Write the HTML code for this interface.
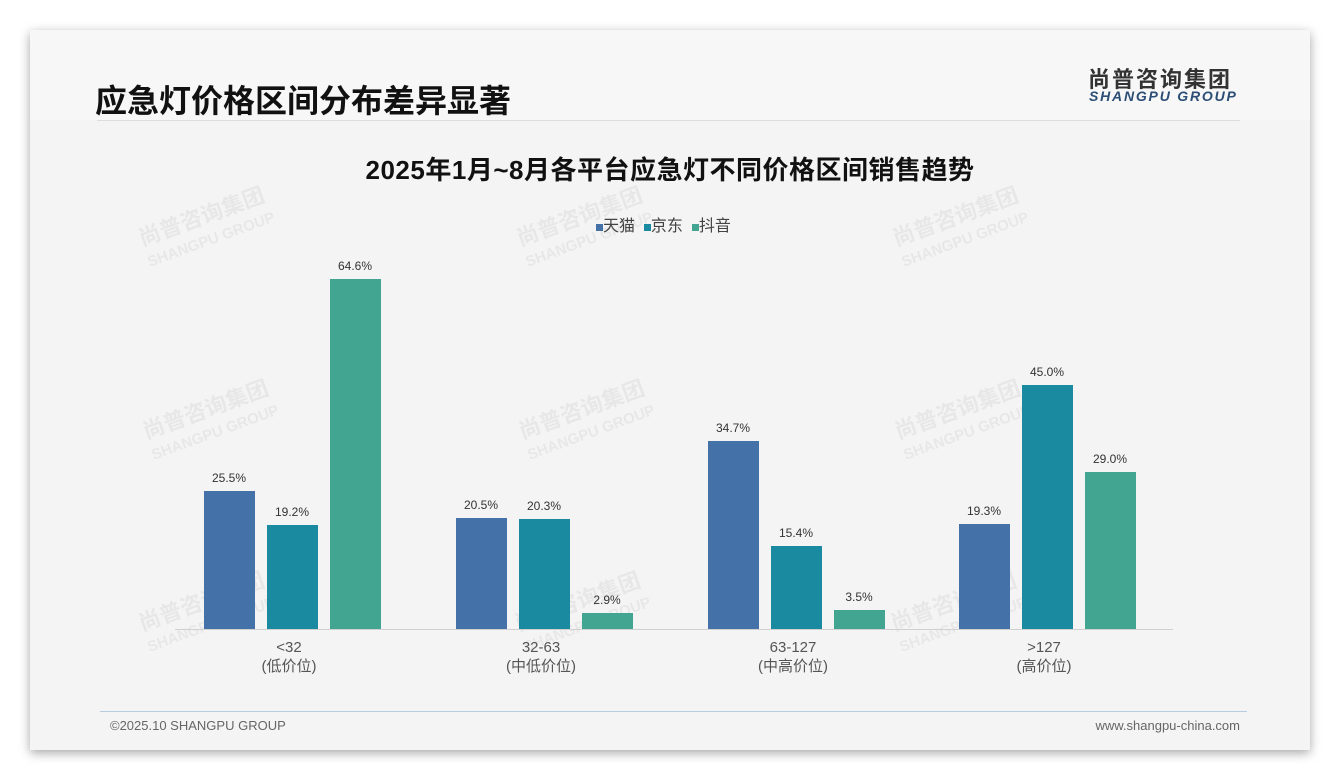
<!DOCTYPE html>
<html><head><meta charset="utf-8"><style>
body{margin:0;width:1340px;height:780px;background:#fff;font-family:"Liberation Sans","Noto Sans CJK SC",sans-serif;position:relative;overflow:hidden}
.card{position:absolute;left:30px;top:30px;width:1280px;height:720px;background:#f4f4f4;box-shadow:0 3px 10px rgba(0,0,0,.35)}
.t{position:absolute;white-space:nowrap}
.bar{position:absolute;width:51px}
.v{position:absolute;width:80px;text-align:center;font-size:12px;color:#333}
.c{position:absolute;width:160px;text-align:center;font-size:15px;color:#555;line-height:19px}
.wm{position:absolute;color:rgba(0,0,0,.05);font-weight:bold;transform:rotate(-20deg);font-size:22px;line-height:22px}
</style></head><body>
<div class="card"></div>
<div style="position:absolute;left:30px;top:30px;width:1280px;height:90px;background:#f7f7f7"></div>
<div class="t" style="left:95px;top:76px;font-size:32px;font-weight:bold;color:#111">应急灯价格区间分布差异显著</div>
<div class="t" style="left:1088px;top:62px;font-size:22px;font-weight:bold;color:#333;letter-spacing:2px">尚普咨询集团</div>
<div class="t" style="left:1089px;top:88px;font-size:14px;font-weight:bold;font-style:italic;color:#2c4d75;letter-spacing:1.8px">SHANGPU GROUP</div>
<div style="position:absolute;left:97px;top:120px;width:1143px;height:1px;background:#ddd"></div>
<div class="t" style="left:0;width:1340px;text-align:center;top:150px;font-size:26px;font-weight:bold;color:#111;letter-spacing:0.5px">2025年1月~8月各平台应急灯不同价格区间销售趋势</div>
<div class="t" style="left:596px;top:212px;font-size:16px;color:#444"><span style="display:inline-block;width:7px;height:7px;background:#4472a8"></span>天猫&nbsp;&nbsp;<span style="display:inline-block;width:7px;height:7px;background:#1a8aa0"></span>京东&nbsp;&nbsp;<span style="display:inline-block;width:7px;height:7px;background:#41a592"></span>抖音</div>
<div class="wm" style="left:140px;top:205px">尚普咨询集团<br><span style="font-size:15px">SHANGPU GROUP</span></div>
<div class="wm" style="left:518px;top:205px">尚普咨询集团<br><span style="font-size:15px">SHANGPU GROUP</span></div>
<div class="wm" style="left:894px;top:205px">尚普咨询集团<br><span style="font-size:15px">SHANGPU GROUP</span></div>
<div class="wm" style="left:144px;top:398px">尚普咨询集团<br><span style="font-size:15px">SHANGPU GROUP</span></div>
<div class="wm" style="left:520px;top:398px">尚普咨询集团<br><span style="font-size:15px">SHANGPU GROUP</span></div>
<div class="wm" style="left:896px;top:398px">尚普咨询集团<br><span style="font-size:15px">SHANGPU GROUP</span></div>
<div class="wm" style="left:140px;top:590px">尚普咨询集团<br><span style="font-size:15px">SHANGPU GROUP</span></div>
<div class="wm" style="left:516px;top:590px">尚普咨询集团<br><span style="font-size:15px">SHANGPU GROUP</span></div>
<div class="wm" style="left:892px;top:590px">尚普咨询集团<br><span style="font-size:15px">SHANGPU GROUP</span></div>
<div id="bars"></div>
<div style="position:absolute;left:175px;top:629px;width:998px;height:1px;background:#d0d0d0"></div>
<div class="c" style="left:209px;top:638px">&lt;32<br>(低价位)</div>
<div class="c" style="left:461px;top:638px">32-63<br>(中低价位)</div>
<div class="c" style="left:713px;top:638px">63-127<br>(中高价位)</div>
<div class="c" style="left:964px;top:638px">&gt;127<br>(高价位)</div>
<div style="position:absolute;left:100px;top:711px;width:1147px;height:1px;background:#b8cce0"></div>
<div class="t" style="left:110px;top:718px;font-size:13px;color:#666">©2025.10 SHANGPU GROUP</div>
<div class="t" style="right:100px;top:718px;font-size:13px;color:#666">www.shangpu-china.com</div>
<script>
var d=[[25.5,19.2,64.6],[20.5,20.3,2.9],[34.7,15.4,3.5],[19.3,45.0,29.0]],xs=[204,456,708,959],cols=["#4472a8","#1a8aa0","#41a592"],h="";
d.forEach(function(g,i){g.forEach(function(v,j){var x=xs[i]+j*63,hh=Math.round(v*5.418),top=629-hh;
h+='<div class="bar" style="left:'+x+'px;top:'+top+'px;height:'+hh+'px;background:'+cols[j]+'"></div>';
h+='<div class="v" style="left:'+(x-15)+'px;top:'+(top-20)+'px">'+v.toFixed(1)+'%</div>';});});
document.getElementById("bars").innerHTML=h;
</script>
</body></html>
